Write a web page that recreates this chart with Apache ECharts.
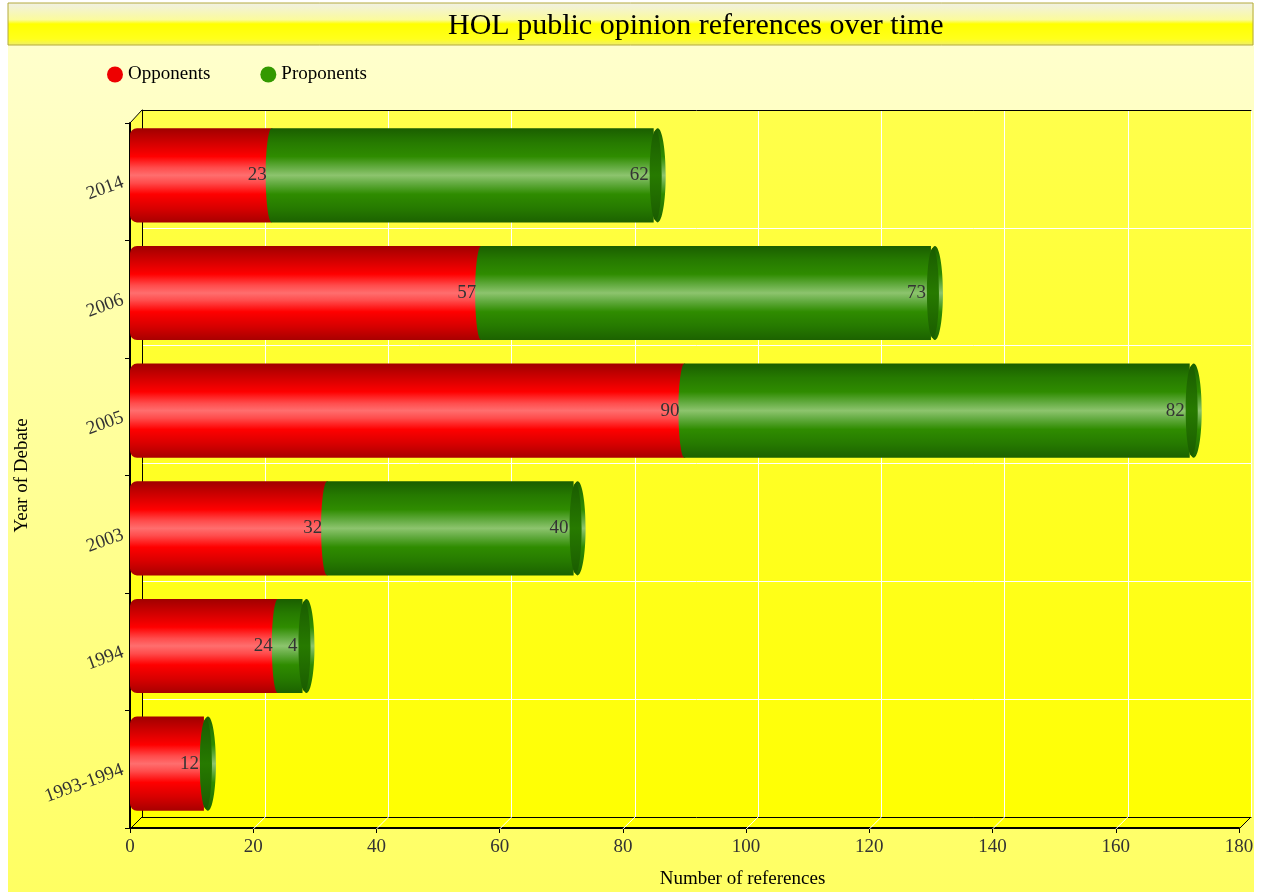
<!DOCTYPE html>
<html>
<head>
<meta charset="utf-8">
<script src="https://cdn.jsdelivr.net/npm/echarts@6/dist/echarts.min.js"></script>
<style>
  html, body { margin: 0; padding: 0; background: #fff; }
  #chart { width: 1261px; height: 894px; }
</style>
</head>
<body>
<div id="chart"></div>
<script>
// data, bottom to top
const years = ['1993-1994', '1994', '2003', '2005', '2006', '2014'];
const opponents = [12, 24, 32, 90, 57, 23];
const proponents = [0, 4, 40, 82, 73, 62];
const xMin = 0, xMax = 180, xStep = 20;

const FONT = "'Liberation Serif', 'DejaVu Serif', serif";

const chart = echarts.init(document.getElementById('chart'));

function vGrad(stops) {
  return new echarts.graphic.LinearGradient(0, 0, 0, 1,
    stops.map(s => ({ offset: s[0], color: s[1] })));
}

const redGrad = vGrad([[0, '#a00000'], [0.15, '#d00000'], [0.3, '#ff0000'], [0.42, '#ff4c4c'], [0.5, '#ff6e6e'], [0.58, '#ff4c4c'], [0.7, '#ff0000'], [0.85, '#d80000'], [1, '#a80000']]);
const greenGrad = vGrad([[0, '#1a5e00'], [0.15, '#267a00'], [0.3, '#2f8c00'], [0.42, '#66ad44'], [0.5, '#8dc46e'], [0.58, '#66ad44'], [0.7, '#2f8c00'], [0.85, '#267a00'], [1, '#1c6200']]);
const capGrad = vGrad([[0, '#1a5c00'], [0.5, '#277a00'], [1, '#1a5c00']]);

// front grid (axes), bar grid (mid depth), back wall grid (split lines)
const front = { left: 130, right: 22, top: 123, bottom: 65 };
const mid = { left: 130, right: 22, top: 116.5, bottom: 71.5 };
const back = { left: 142, right: 10, top: 110, bottom: 77 };

const option = {
  animation: false,
  title: {
    text: 'HOL public opinion references over time',
    left: 443,
    top: 6,
    textStyle: { fontFamily: FONT, fontSize: 30, fontWeight: 'normal', color: '#000' }
  },
  legend: {
    data: [
      { name: 'Opponents', itemStyle: { color: '#ee0000' } },
      { name: 'Proponents', itemStyle: { color: '#339900' } }
    ],
    left: 102,
    top: 60,
    icon: 'circle',
    itemWidth: 16,
    itemHeight: 16,
    itemGap: 50,
    textStyle: { fontFamily: FONT, fontSize: 19, color: '#000' }
  },
  grid: [
    Object.assign({}, front),
    Object.assign({}, mid),
    Object.assign({}, back)
  ],
  xAxis: [
    {
      gridIndex: 0, type: 'value', min: xMin, max: xMax, interval: xStep,
      name: 'Number of references', nameLocation: 'middle', nameGap: 42,
      nameTextStyle: { fontFamily: FONT, fontSize: 19, color: '#000', padding: [0, 0, 0, 116] },
      axisLine: { show: true, lineStyle: { color: '#000', width: 2 } },
      axisTick: { show: true, length: 5, lineStyle: { color: '#000' } },
      axisLabel: { fontFamily: FONT, fontSize: 19, color: '#333', margin: 10 },
      splitLine: { show: false }
    },
    { gridIndex: 1, type: 'value', min: xMin, max: xMax, interval: xStep, show: false },
    {
      gridIndex: 2, type: 'value', min: xMin, max: xMax, interval: xStep,
      axisLine: { show: true, lineStyle: { color: '#000', width: 1 } },
      axisTick: { show: false }, axisLabel: { show: false },
      splitLine: { show: true, lineStyle: { color: '#fff', width: 1 } }
    },
    {
      gridIndex: 2, type: 'value', min: xMin, max: xMax, interval: xStep, position: 'top',
      axisLine: { show: true, lineStyle: { color: '#000', width: 1 } },
      axisTick: { show: false }, axisLabel: { show: false }, splitLine: { show: false }
    }
  ],
  yAxis: [
    {
      gridIndex: 0, type: 'category', data: years,
      name: 'Year of Debate', nameLocation: 'middle', nameGap: 98, nameRotate: 90,
      nameTextStyle: { fontFamily: FONT, fontSize: 19, color: '#000' },
      axisLine: { show: true, lineStyle: { color: '#000', width: 2 } },
      axisTick: { show: true, length: 5, lineStyle: { color: '#000' } },
      axisLabel: { fontFamily: FONT, fontSize: 19, color: '#333', rotate: 20, margin: 7 },
      splitLine: { show: false }
    },
    { gridIndex: 1, type: 'category', data: years, show: false },
    {
      gridIndex: 2, type: 'category', data: years,
      axisLine: { show: true, lineStyle: { color: '#000', width: 1 } },
      axisTick: { show: false }, axisLabel: { show: false },
      splitLine: { show: true, lineStyle: { color: '#fff', width: 1 } }
    }
  ],
  graphic: [
    {
      id: 'bg', type: 'rect', z: -20, silent: true,
      shape: { x: 8, y: 3, width: 1246, height: 889 },
      style: { fill: vGrad([[0, '#ffffd2'], [0.5, '#ffff9a'], [1, '#ffff62']]) }
    },
    {
      id: 'band', type: 'rect', z: -19, silent: true,
      shape: { x: 8, y: 3, width: 1245, height: 42 },
      style: {
        fill: vGrad([[0, '#f0f0e6'], [0.4, '#fbfb9c'], [0.5, '#ffff00'], [0.85, '#ffff1c'], [1, '#eeee70']]),
        stroke: '#b4aa3c', lineWidth: 1
      }
    },
    {
      id: 'plot', type: 'polygon', z: -19, silent: true,
      shape: { points: [[130, 123], [142, 110], [1251, 110], [1251, 817], [1239, 829], [130, 829]] },
      style: { fill: vGrad([[0, '#ffff4c'], [0.5, '#ffff24'], [1, '#ffff00']]) }
    },
    {
      id: 'cornerTop', type: 'line', z: 5, silent: true,
      shape: { x1: 130, y1: 123, x2: 142, y2: 110 },
      style: { stroke: '#000', lineWidth: 1 }
    }
  ],
  series: [
    {
      name: 'Opponents', type: 'bar', stack: 'total',
      xAxisIndex: 1, yAxisIndex: 1,
      barCategoryGap: '20%',
      itemStyle: { color: redGrad, borderRadius: [7, 0, 0, 7] },
      data: opponents
    },
    {
      name: 'Proponents', type: 'bar', stack: 'total',
      xAxisIndex: 1, yAxisIndex: 1,
      barCategoryGap: '20%',
      itemStyle: { color: greenGrad },
      data: proponents
    },
    {
      name: 'caps', type: 'custom',
      xAxisIndex: 1, yAxisIndex: 1, z: 4,
      encode: { x: [0, 1], y: 2 },
      data: years.map((y, i) => [opponents[i], proponents[i], i]),
      renderItem: function (params, api) {
        const opp = api.value(0), pro = api.value(1), ci = api.value(2);
        const joint = api.coord([opp, ci]);
        const end = api.coord([opp + pro, ci]);
        const h = api.size([0, 1])[1] * 0.8;
        const kids = [];
        if (opp > 0 && pro > 0) {
          kids.push({
            type: 'ellipse',
            shape: { cx: joint[0], cy: joint[1], rx: 6, ry: h / 2 },
            style: { fill: greenGrad }
          });
        }
        kids.push({
          type: 'ellipse',
          shape: { cx: end[0] + 4, cy: end[1], rx: 8, ry: h / 2 },
          style: { fill: greenGrad }
        });
        kids.push({
          type: 'ellipse',
          shape: { cx: end[0] + 2, cy: end[1], rx: 6, ry: h / 2 - 2 },
          style: { fill: capGrad }
        });
        const txt = { fontFamily: FONT, fontSize: 19, fill: '#333', align: 'right', verticalAlign: 'middle' };
        if (opp > 0) {
          kids.push({ type: 'text', style: Object.assign({ text: String(opp), x: joint[0] - 5, y: joint[1] }, txt) });
        }
        if (pro > 0) {
          kids.push({ type: 'text', style: Object.assign({ text: String(pro), x: end[0] - 5, y: end[1] }, txt) });
        }
        return { type: 'group', children: kids };
      }
    }
  ]
};

chart.setOption(option);

// floor diagonals joining front ticks to back wall grid lines
const frontBottom = 894 - front.bottom;
const backBottom = 894 - back.bottom;
const diags = [];
for (let v = xMin; v <= xMax; v += xStep) {
  const xf = chart.convertToPixel({ xAxisIndex: 0 }, v);
  const xb = chart.convertToPixel({ xAxisIndex: 2 }, v);
  const edge = v === xMin || v === xMax;
  diags.push({
    id: 'diag' + v, type: 'line', z: edge ? 5 : 1, silent: true,
    shape: { x1: xf, y1: frontBottom, x2: xb, y2: backBottom },
    style: { stroke: edge ? '#000' : '#fff', lineWidth: 1 }
  });
}
chart.setOption({ graphic: diags });
</script>
</body>
</html>
